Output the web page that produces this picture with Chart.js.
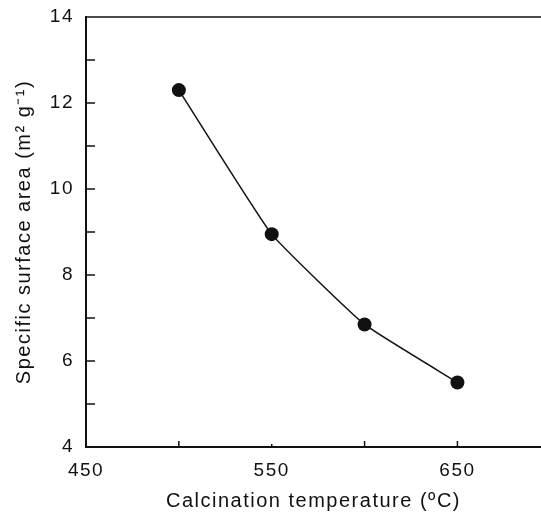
<!doctype html>
<html>
<head>
    <meta charset="utf-8">
    <title>Specific surface area vs calcination temperature</title>
    <script src="https://cdn.jsdelivr.net/npm/chart.js@4.4.1/dist/chart.umd.min.js"></script>
    <style>
    html, body { margin: 0; padding: 0; background: #fff; }
    #holder { width: 541px; height: 513px; }
    </style>
</head>
<body>
    <div id="holder">
        <canvas id="canvasSurface" width="541" height="513"></canvas>
    </div>
    <script>
        // data
        var temperatures = [500, 550, 600, 650];
        var surfaceArea = [12.3, 8.95, 6.85, 5.5];

        // axis ticks
        var xLabelTicks = [450, 550, 650];
        var xMarkTicks = [500, 550, 600, 650];
        var yLabelTicks = [4, 6, 8, 10, 12, 14];
        var yMarkTicks = [5, 6, 7, 8, 9, 10, 11, 12, 13];

        var ink = '#111';
        var fontFamily = "'Liberation Sans', Arial, Helvetica, sans-serif";

        // the printed figure has loosely spaced lettering
        var spacing = {
            id: 'spacing',
            beforeDraw: function(chart) {
                chart.ctx.letterSpacing = '1.5px';
            },
            afterDraw: function(chart) {
                chart.ctx.letterSpacing = '0px';
            }
        };

        // small inward tick marks, like the printed figure
        var inwardTicks = {
            id: 'inwardTicks',
            afterDraw: function(chart) {
                var ctx = chart.ctx;
                var xs = chart.scales.x, ys = chart.scales.y;
                var area = chart.chartArea;
                ctx.save();
                ctx.strokeStyle = ink;
                ctx.lineWidth = 1.5;
                ctx.beginPath();
                for (var i = 0; i < yMarkTicks.length; i++) {
                    var py = ys.getPixelForValue(yMarkTicks[i]);
                    ctx.moveTo(area.left, py);
                    ctx.lineTo(area.left + 9, py);
                }
                for (var j = 0; j < xMarkTicks.length; j++) {
                    var px = xs.getPixelForValue(xMarkTicks[j]);
                    var len = xMarkTicks[j] == 550 ? 3 : 6;
                    ctx.moveTo(px, area.bottom);
                    ctx.lineTo(px, area.bottom - len);
                }
                // top frame line
                ctx.moveTo(area.left, area.top);
                ctx.lineTo(area.right, area.top);
                ctx.stroke();
                ctx.restore();
            }
        };

        var ctx = document.getElementById('canvasSurface').getContext('2d');
        window.myLine = new Chart(ctx, {
            type: 'line',
            data: {
                datasets: [{
                    label: 'Specific surface area',
                    data: temperatures.map(function(t, i) { return {x: t, y: surfaceArea[i]}; }),
                    borderColor: ink,
                    backgroundColor: ink,
                    borderWidth: 1.5,
                    pointRadius: 7,
                    pointHoverRadius: 7,
                    pointBackgroundColor: ink,
                    pointBorderWidth: 0,
                    tension: 0.12,
                    fill: false
                }]
            },
            plugins: [spacing, inwardTicks],
            options: {
                responsive: false,
                animation: false,
                devicePixelRatio: 1,
                layout: {
                    autoPadding: false,
                    padding: { top: 17, right: 0, bottom: 0, left: 0 }
                },
                plugins: {
                    legend: { display: false },
                    tooltip: { enabled: false }
                },
                scales: {
                    x: {
                        type: 'linear',
                        min: 450,
                        max: 695,
                        afterBuildTicks: function(scale) {
                            scale.ticks = xLabelTicks.map(function(v) { return {value: v}; });
                        },
                        afterFit: function(scale) {
                            scale.height = 66;
                            scale.paddingLeft = 0;
                            scale.paddingRight = 0;
                        },
                        grid: { display: false, drawTicks: false },
                        border: { display: true, color: ink, width: 2 },
                        ticks: {
                            color: ink,
                            padding: 12,
                            maxRotation: 0,
                            autoSkip: false,
                            font: { family: fontFamily, size: 19 }
                        },
                        title: {
                            display: true,
                            text: 'Calcination temperature (\u00BAC)',
                            color: ink,
                            padding: { top: 0, bottom: 0 },
                            font: { family: fontFamily, size: 20 }
                        }
                    },
                    y: {
                        type: 'linear',
                        min: 4,
                        max: 14,
                        afterBuildTicks: function(scale) {
                            scale.ticks = yLabelTicks.map(function(v) { return {value: v}; });
                        },
                        afterFit: function(scale) {
                            scale.width = 86;
                            scale.paddingTop = 0;
                            scale.paddingBottom = 0;
                        },
                        grid: { display: false, drawTicks: false },
                        border: { display: true, color: ink, width: 2 },
                        ticks: {
                            color: ink,
                            padding: 12,
                            autoSkip: false,
                            font: { family: fontFamily, size: 19 }
                        },
                        title: {
                            display: true,
                            text: 'Specific surface area (m\u00B2 g\u207B\u00B9)',
                            color: ink,
                            padding: { top: 12, bottom: 0 },
                            font: { family: fontFamily, size: 20 }
                        }
                    }
                }
            }
        });
    </script>
</body>
</html>
